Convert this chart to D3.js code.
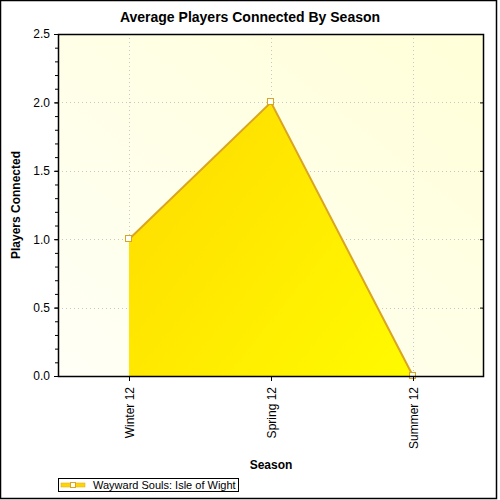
<!DOCTYPE html>
<html>
<head>
<meta charset="utf-8">
<script src="https://cdn.jsdelivr.net/npm/d3@7"></script>
<style>
  body { margin: 0; background: #fff; }
  svg { font-family: "Liberation Sans", Arial, sans-serif; }
</style>
</head>
<body>
<svg id="chart" width="500" height="500"></svg>
<script>
const seasons = ["Winter 12", "Spring 12", "Summer 12"];
const players = [1.0, 2.0, 0.0];
const yTicks = [0, 0.5, 1.0, 1.5, 2.0, 2.5];
const seriesName = "Wayward Souls: Isle of Wight";

const svg = d3.select("#chart");
const margin = { left: 58, right: 16, top: 34, bottom: 124 };
const width = 500 - margin.left - margin.right;
const height = 500 - margin.top - margin.bottom;

const data = seasons.map(function (s, i) {
  return { season: s, value: players[i] };
});

const x = d3.scalePoint().domain(seasons).range([0, width]).padding(0.5);
const y = d3.scaleLinear().domain([0, 2.5]).range([height, 0]);

// outer frame
svg.append("rect")
  .attr("x", 0.5).attr("y", 0.5)
  .attr("width", 496).attr("height", 498)
  .attr("fill", "#fff")
  .attr("stroke", "#000")
  .attr("stroke-width", 1.5);

const defs = svg.append("defs");
const bg = defs.append("linearGradient")
  .attr("id", "bg").attr("x1", "0").attr("y1", "1").attr("x2", "1").attr("y2", "0");
bg.append("stop").attr("offset", "0").attr("stop-color", "#fffff6");
bg.append("stop").attr("offset", "1").attr("stop-color", "#ffffd8");

const fillGrad = defs.append("linearGradient")
  .attr("id", "areaFill").attr("gradientUnits", "userSpaceOnUse")
  .attr("x1", 0).attr("y1", 0).attr("x2", width).attr("y2", height);
fillGrad.append("stop").attr("offset", "0").attr("stop-color", "#ffd200");
fillGrad.append("stop").attr("offset", "1").attr("stop-color", "#ffff00");

const g = svg.append("g")
  .attr("transform", "translate(" + margin.left + "," + margin.top + ")");

g.append("rect")
  .attr("width", width).attr("height", height)
  .attr("fill", "url(#bg)");

// grid
g.append("g")
  .selectAll("line")
  .data(yTicks.slice(1, -1))
  .enter()
  .append("line")
  .attr("x1", 0).attr("x2", width)
  .attr("y1", function (d) { return Math.round(y(d)) + 0.5; })
  .attr("y2", function (d) { return Math.round(y(d)) + 0.5; })
  .attr("stroke", "#c8c8c8")
  .attr("stroke-dasharray", "1,3");

g.append("g")
  .selectAll("line")
  .data(seasons)
  .enter()
  .append("line")
  .attr("y1", 0).attr("y2", height)
  .attr("x1", function (d) { return Math.round(x(d)) + 0.5; })
  .attr("x2", function (d) { return Math.round(x(d)) + 0.5; })
  .attr("stroke", "#c8c8c8")
  .attr("stroke-dasharray", "1,3");

// area
const area = d3.area()
  .x(function (d) { return x(d.season); })
  .y0(y(0))
  .y1(function (d) { return y(d.value); });

g.append("path")
  .datum(data)
  .attr("d", area)
  .attr("fill", "url(#areaFill)");

const line = d3.line()
  .x(function (d) { return x(d.season); })
  .y(function (d) { return y(d.value); });

g.append("path")
  .datum(data)
  .attr("d", line)
  .attr("fill", "none")
  .attr("stroke", "#daa520")
  .attr("stroke-width", 2);

g.selectAll("rect.marker")
  .data(data)
  .enter()
  .append("rect")
  .classed("marker", true)
  .attr("x", function (d) { return Math.round(x(d.season)) - 3.5; })
  .attr("y", function (d) { return Math.round(y(d.value)) - 3.5; })
  .attr("width", 6).attr("height", 6)
  .attr("fill", "#fff")
  .attr("stroke", "#daa520")
  .attr("stroke-width", 1);

// plot border
g.append("rect")
  .attr("x", 0.5).attr("y", 0.5)
  .attr("width", width - 1).attr("height", height)
  .attr("fill", "none")
  .attr("stroke", "#000")
  .attr("stroke-width", 1.5);

// axes
const minor = d3.range(0, 2.51, 0.1);
const yAxis = g.append("g")
  .call(d3.axisLeft(y).tickValues(yTicks).tickFormat(d3.format(".1f")).tickSize(4).tickPadding(4));
yAxis.select(".domain").remove();
yAxis.selectAll("text").attr("font-size", 12).attr("fill", "#000");

g.append("g")
  .call(d3.axisLeft(y).tickValues(minor).tickFormat("").tickSize(3))
  .select(".domain").remove();

const yRight = g.append("g")
  .attr("transform", "translate(" + width + ",0)")
  .call(d3.axisLeft(y).tickValues(yTicks).tickFormat("").tickSize(4));
yRight.select(".domain").remove();

const xAxis = g.append("g")
  .attr("transform", "translate(0," + height + ")")
  .call(d3.axisBottom(x).tickSize(5).tickPadding(0));
xAxis.select(".domain").remove();
xAxis.selectAll("text")
  .attr("font-size", 12)
  .attr("fill", "#000")
  .attr("text-anchor", "end")
  .attr("dy", "0.35em")
  .attr("transform", "translate(0,11) rotate(-90)")
  .attr("x", 0).attr("y", 0);

// titles
svg.append("text")
  .attr("x", 250).attr("y", 22)
  .attr("text-anchor", "middle")
  .attr("font-size", 14).attr("font-weight", "bold")
  .text("Average Players Connected By Season");

svg.append("text")
  .attr("transform", "translate(20," + (margin.top + height / 2) + ") rotate(-90)")
  .attr("text-anchor", "middle")
  .attr("font-size", 12).attr("font-weight", "bold")
  .text("Players Connected");

svg.append("text")
  .attr("x", margin.left + width / 2).attr("y", 469)
  .attr("text-anchor", "middle")
  .attr("font-size", 12).attr("font-weight", "bold")
  .text("Season");

// legend
const leg = svg.append("g").attr("transform", "translate(58,478)");
leg.append("rect")
  .attr("x", 0.5).attr("y", 0.5)
  .attr("width", 180).attr("height", 13)
  .attr("fill", "#fff").attr("stroke", "#000");
leg.append("rect")
  .attr("x", 3).attr("y", 5)
  .attr("width", 24).attr("height", 4)
  .attr("fill", "#ffd700").attr("stroke", "#daa520").attr("stroke-width", 0.5);
leg.append("rect")
  .attr("x", 12.5).attr("y", 4.5)
  .attr("width", 5).attr("height", 5)
  .attr("fill", "#fff").attr("stroke", "#daa520");
leg.append("text")
  .attr("x", 35).attr("y", 11)
  .attr("font-size", 11)
  .text(seriesName);
</script>
</body>
</html>
